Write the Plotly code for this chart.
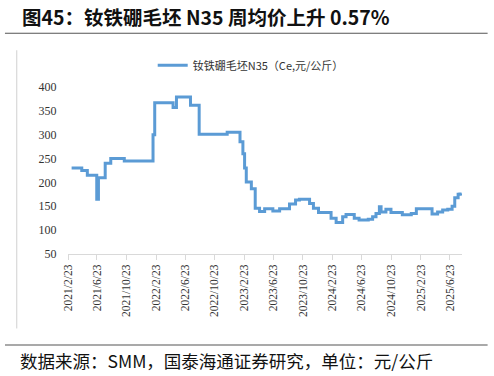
import plotly.graph_objects as go

# Step-change points of the weekly price series (元/公斤)
dates = [
    "2021-03-10", "2021-04-21", "2021-05-14", "2021-06-22", "2021-06-29",
    "2021-07-27", "2021-08-19", "2021-10-14", "2022-02-10", "2022-02-17",
    "2022-05-04", "2022-05-18", "2022-07-15", "2022-08-20", "2022-12-14",
    "2023-02-05", "2023-02-17", "2023-02-24", "2023-03-03", "2023-03-24",
    "2023-04-09", "2023-04-27", "2023-05-18", "2023-06-21", "2023-07-19",
    "2023-08-29", "2023-09-23", "2023-10-09", "2023-11-20", "2023-12-06",
    "2023-12-27", "2024-02-17", "2024-03-09", "2024-04-05", "2024-04-19",
    "2024-05-23", "2024-06-12", "2024-07-20", "2024-08-07", "2024-08-21",
    "2024-09-04", "2024-09-11", "2024-10-01", "2024-10-22", "2024-12-08",
    "2025-01-14", "2025-02-04", "2025-04-10", "2025-05-03", "2025-05-24",
    "2025-06-14", "2025-07-02", "2025-07-13", "2025-07-27", "2025-08-03",
    "2025-08-10",
]
values = [
    230, 225, 215, 165, 210,
    240, 250, 245, 300, 367,
    357, 379, 362, 301, 305,
    285, 260, 230, 201, 187,
    146, 139, 145, 140, 145,
    155, 163, 165, 156, 146,
    137, 125, 116, 128, 133,
    125, 121, 123, 128, 135,
    149, 138, 144, 137, 132,
    135, 145, 134, 138, 142,
    144, 150, 168, 175, 176,
    177,
]

tick_dates = [
    "2021-02-23", "2021-06-23", "2021-10-23", "2022-02-23", "2022-06-23",
    "2022-10-23", "2023-02-23", "2023-06-23", "2023-10-23", "2024-02-23",
    "2024-06-23", "2024-10-23", "2025-02-23", "2025-06-23",
]
tick_labels = [
    "2021/2/23", "2021/6/23", "2021/10/23", "2022/2/23", "2022/6/23",
    "2022/10/23", "2023/2/23", "2023/6/23", "2023/10/23", "2024/2/23",
    "2024/6/23", "2024/10/23", "2025/2/23", "2025/6/23",
]
y_ticks = [50, 100, 150, 200, 250, 300, 350, 400]

series_name = "钕铁硼毛坯N35（Ce,元/公斤）"
title_text = "<b>图45：钕铁硼毛坯 N35 周均价上升 0.57%</b>"
source_text = "数据来源：SMM，国泰海通证券研究，单位：元/公斤"

serif = "'Times New Roman', 'Liberation Serif', serif"
cjk = "'Noto Sans CJK SC', sans-serif"

fig = go.Figure()
fig.add_trace(go.Scatter(
    x=dates, y=values, mode="lines", name=series_name,
    line=dict(color="#5B9BD5", width=3, shape="hv"),
))

fig.update_layout(
    width=494, height=376,
    margin=dict(l=68, r=32, t=87, b=122, autoexpand=False),
    paper_bgcolor="white", plot_bgcolor="white",
    showlegend=True,
    legend=dict(
        orientation="h", x=0.215, xanchor="left", y=1.13, yanchor="middle",
        font=dict(family=cjk, size=11, color="#333333"),
        itemwidth=30, bgcolor="rgba(0,0,0,0)",
    ),
    xaxis=dict(
        type="date", range=["2021-02-23", "2025-08-12"], automargin=False,
        tickvals=tick_dates, ticktext=tick_labels, tickangle=-90,
        showgrid=False, zeroline=False,
        showline=True, linecolor="#d9d9d9", linewidth=1,
        ticks="outside", ticklen=5, tickcolor="#d9d9d9",
        tickfont=dict(family=serif, size=11.5, color="#333333"),
    ),
    yaxis=dict(
        range=[50, 400], tickvals=y_ticks, automargin=False,
        showgrid=False, zeroline=False, showline=False,
        ticks="outside", ticklen=8, tickcolor="rgba(0,0,0,0)",
        tickfont=dict(family=serif, size=12, color="#333333"),
    ),
    shapes=[
        dict(type="line", xref="paper", yref="paper",
             x0=-0.16, x1=1.065, y0=1.322, y1=1.322,
             line=dict(color="#555555", width=1.2)),
        dict(type="line", xref="paper", yref="paper",
             x0=-0.16, x1=1.065, y0=-0.545, y1=-0.545,
             line=dict(color="#555555", width=1.2)),
        dict(type="line", xref="paper", yref="paper",
             x0=-0.13, x1=-0.13, y0=-0.446, y1=1.22,
             line=dict(color="#d0d0d0", width=1)),
    ],
    annotations=[
        dict(text=title_text, xref="paper", yref="paper",
             x=-0.122, y=1.42, xanchor="left", yanchor="middle",
             showarrow=False, font=dict(family=cjk, size=19.5, color="#111111")),
        dict(text=source_text, xref="paper", yref="paper",
             x=-0.128, y=-0.64, xanchor="left", yanchor="middle",
             showarrow=False, font=dict(family=cjk, size=17.5, color="#111111")),
    ],
)

fig.write_html("out.html", config={"displayModeBar": False},
               post_script="document.body.style.margin='0';")
